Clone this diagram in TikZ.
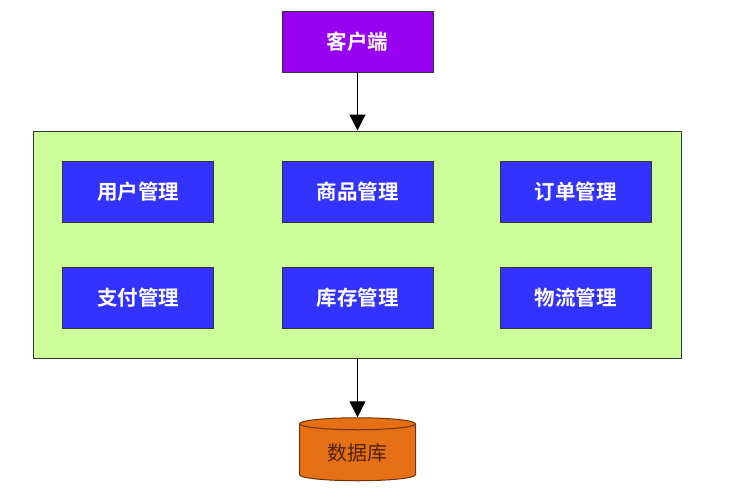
\documentclass[tikz,border=0pt]{standalone}
\usepackage{fontspec}
\newfontfamily\cjk{Noto Sans CJK SC}
\newfontfamily\cjkb{Noto Sans CJK SC Bold}
\usetikzlibrary{arrows.meta,shapes.geometric}
\definecolor{clientc}{RGB}{152,0,240}
\definecolor{modc}{RGB}{51,51,255}
\definecolor{groupc}{RGB}{204,255,153}
\definecolor{dbc}{RGB}{230,112,22}
\definecolor{dbline}{RGB}{110,50,10}
\definecolor{dbtext}{RGB}{80,35,5}
\begin{document}
\begin{tikzpicture}[x=1pt,y=-1pt,
  boxst/.style={draw=black!80,line width=1pt,minimum width=151pt,minimum height=61pt,inner sep=0pt,text=white,font=\cjkb\fontsize{20.5}{20.5}\selectfont},
  modst/.style={boxst,fill=modc},
  conn/.style={line width=1.2pt,-{Triangle[width=16pt,length=16pt]}}]
\useasboundingbox (0,0) rectangle (729,488);
\fill[white] (0,0) rectangle (729,488);
\node[boxst,fill=clientc] (client) at (357.5,41.5) {客户端};
\node[draw=black!80,line width=1pt,fill=groupc,minimum width=648pt,minimum height=227pt,inner sep=0pt] (group) at (357.5,244.5) {};
\node[modst] (user) at (138,192) {用户管理};
\node[modst] (goods) at (357.5,192) {商品管理};
\node[modst] (order) at (575.5,192) {订单管理};
\node[modst] (pay) at (138,297.5) {支付管理};
\node[modst] (stock) at (357.5,297.5) {库存管理};
\node[modst] (logi) at (575.5,297.5) {物流管理};
\node[cylinder,shape border rotate=90,shape aspect=0.2,draw=dbline,line width=1pt,fill=dbc,minimum width=116pt,minimum height=63pt,inner sep=0pt,text=dbtext,font=\cjk\fontsize{20}{20}\selectfont] (db) at (357.5,452.5) {数据库};
\draw[conn] (client.south) -- (group.north);
\draw[conn] (group.south) -- (db.top);
\end{tikzpicture}
\end{document}
